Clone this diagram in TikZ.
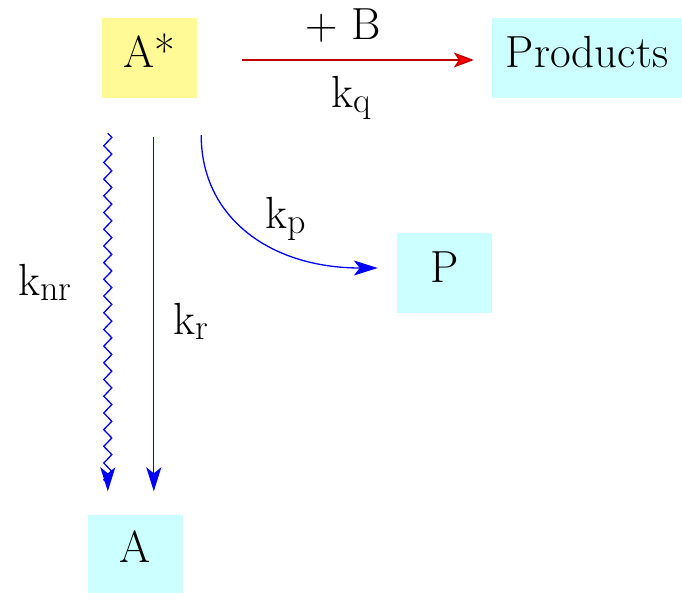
\documentclass[tikz,border=0pt]{standalone}
\usetikzlibrary{arrows.meta,decorations.pathmorphing}
\definecolor{boxyellow}{RGB}{255,250,150}
\definecolor{boxcyan}{RGB}{204,255,255}
\definecolor{arrowblue}{RGB}{0,0,255}
\definecolor{darkred}{RGB}{190,0,0}
\newcommand{\ksub}[1]{k\raisebox{-5pt}{\fontsize{36}{36}\selectfont #1}}
\begin{document}
\begin{tikzpicture}[x=1pt,y=-1pt,
  every node/.style={font=\rmfamily\fontsize{45}{54}\selectfont},
  species/.style={inner sep=0pt, minimum width=95pt, minimum height=80pt, text height=30pt, text depth=12pt},
  label/.style={inner sep=0pt, anchor=base west},
  bluearrow/.style={draw=arrowblue, line width=1.3pt, -{Stealth[length=24pt,width=15pt,inset=6pt]}},
  redarrow/.style={draw=darkred, line width=1.3pt, -{Stealth[length=20pt,width=15pt,inset=5pt,fill=red]}}]
\useasboundingbox (0,0) rectangle (682,592);
\node[species, fill=boxyellow] (astar) at (149.5,58) {A*};
\node[species, fill=boxcyan, minimum width=190pt] (prod) at (587,58) {Products};
\node[species, fill=boxcyan] (p) at (444.5,273) {P};
\node[species, fill=boxcyan, minimum height=78pt] (a) at (135.5,553.5) {A};
% quenching
\draw[redarrow] ([xshift=45pt,yshift=-2pt]astar.east) -- ([xshift=-18pt,yshift=-2pt]prod.west);
\node[label] (plusb) at (305,39) {+ B};
\node[label] (kq) at (331,107) {\ksub{q}};
% non-radiative
\draw[bluearrow, decorate, decoration={zigzag, segment length=16.7pt, amplitude=4pt, pre length=0pt, post length=3pt}]
  ([xshift=6pt,yshift=-35pt]astar.south west) -- ([xshift=20pt,yshift=23pt]a.north west);
\node[label] (knr) at (18,295) {\ksub{nr}};
% radiative
\draw[bluearrow] ([xshift=52pt,yshift=-39pt]astar.south west) -- ([xshift=66pt,yshift=23pt]a.north west);
\node[label] (kr) at (173,334) {\ksub{r}};
% product formation
\draw[bluearrow] ([xshift=4pt,yshift=-37pt]astar.south east) .. controls +(0,82) and +(-108,0) .. ([xshift=-19pt,yshift=5pt]p.west);
\node[label] (kp) at (265,228) {\ksub{p}};
\end{tikzpicture}
\end{document}
